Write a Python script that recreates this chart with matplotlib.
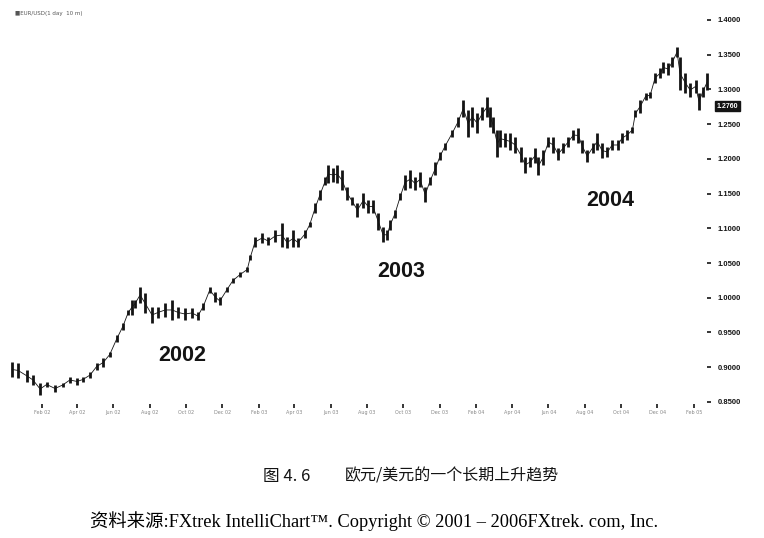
import numpy as np
import pandas as pd
import matplotlib
matplotlib.use("Agg")
import matplotlib.pyplot as plt
import matplotlib.transforms as mtransforms
from matplotlib.ticker import FormatStrFormatter

# EUR/USD daily chart, sampled roughly every 8-10 days: (date, high, low)
dates = [
    "2001-12-13", "2001-12-23", "2002-01-07", "2002-01-17", "2002-01-29", "2002-02-09",
    "2002-02-23", "2002-03-08", "2002-03-20", "2002-04-01", "2002-04-11", "2002-04-23",
    "2002-05-04", "2002-05-15", "2002-05-26", "2002-06-07", "2002-06-17", "2002-06-26",
    "2002-07-02", "2002-07-07", "2002-07-16", "2002-07-24", "2002-08-05", "2002-08-15",
    "2002-08-27", "2002-09-08", "2002-09-18", "2002-09-29", "2002-10-11", "2002-10-21",
    "2002-10-30", "2002-11-10", "2002-11-19", "2002-11-27", "2002-12-09", "2002-12-19",
    "2002-12-31", "2003-01-12", "2003-01-17", "2003-01-25", "2003-02-06", "2003-02-16",
    "2003-02-28", "2003-03-11", "2003-03-20", "2003-03-30", "2003-04-07", "2003-04-19",
    "2003-04-27", "2003-05-06", "2003-05-14", "2003-05-23", "2003-05-28", "2003-06-05",
    "2003-06-12", "2003-06-20", "2003-06-29", "2003-07-07", "2003-07-16", "2003-07-26",
    "2003-08-03", "2003-08-11", "2003-08-20", "2003-08-28", "2003-09-04", "2003-09-09",
    "2003-09-17", "2003-09-26", "2003-10-04", "2003-10-13", "2003-10-21", "2003-10-29",
    "2003-11-07", "2003-11-15", "2003-11-24", "2003-12-02", "2003-12-10", "2003-12-22",
    "2004-01-01", "2004-01-10", "2004-01-18", "2004-01-25", "2004-02-02", "2004-02-11",
    "2004-02-19", "2004-02-24", "2004-02-29", "2004-03-07", "2004-03-12", "2004-03-20",
    "2004-03-29", "2004-04-06", "2004-04-15", "2004-04-23", "2004-05-01", "2004-05-10",
    "2004-05-15", "2004-05-23", "2004-06-01", "2004-06-09", "2004-06-17", "2004-06-26",
    "2004-07-04", "2004-07-13", "2004-07-21", "2004-07-28", "2004-08-05", "2004-08-14",
    "2004-08-22", "2004-08-30", "2004-09-08", "2004-09-16", "2004-09-25", "2004-10-03",
    "2004-10-11", "2004-10-20", "2004-10-25", "2004-11-02", "2004-11-11", "2004-11-19",
    "2004-11-27", "2004-12-06", "2004-12-11", "2004-12-19", "2004-12-26", "2005-01-03",
    "2005-01-08", "2005-01-17", "2005-01-25", "2005-02-03", "2005-02-09", "2005-02-15",
    "2005-02-23",
]
highs = [
    0.9075, 0.9061, 0.8960, 0.8888, 0.8773, 0.8787,
    0.8744, 0.8773, 0.8859, 0.8845, 0.8859, 0.8931,
    0.9061, 0.9133, 0.9219, 0.9464, 0.9637, 0.9824,
    0.9968, 0.9968, 1.0155, 1.0069, 0.9867, 0.9867,
    0.9925, 0.9968, 0.9867, 0.9853, 0.9853, 0.9795,
    0.9925, 1.0155, 1.0083, 1.0011, 1.0155, 1.0285,
    1.0371, 1.0443, 1.0616, 1.0875, 1.0933, 1.0875,
    1.0976, 1.1077, 1.0875, 1.0976, 1.0861, 1.0976,
    1.1091, 1.1365, 1.1552, 1.1739, 1.1912, 1.1869,
    1.1912, 1.1840, 1.1595, 1.1451, 1.1365, 1.1509,
    1.1408, 1.1408, 1.1221, 1.1019, 1.0976, 1.1120,
    1.1264, 1.1509, 1.1768, 1.1840, 1.1739, 1.1811,
    1.1595, 1.1739, 1.1955, 1.2099, 1.2229, 1.2416,
    1.2603, 1.2848, 1.2704, 1.2747, 1.2661, 1.2747,
    1.2891, 1.2747, 1.2603, 1.2416, 1.2416, 1.2373,
    1.2373, 1.2315, 1.2171, 1.2027, 1.2027, 1.2157,
    1.2027, 1.2128, 1.2315, 1.2315, 1.2157, 1.2229,
    1.2315, 1.2416, 1.2445, 1.2272, 1.2128, 1.2229,
    1.2373, 1.2229, 1.2171, 1.2272, 1.2272, 1.2373,
    1.2416, 1.2459, 1.2704, 1.2848, 1.2949, 1.2963,
    1.3237, 1.3309, 1.3395, 1.3381, 1.3467, 1.3610,
    1.3467, 1.3237, 1.3093, 1.3136, 1.2949, 1.3035,
    1.3237,
]
lows = [
    0.8859, 0.8845, 0.8787, 0.8744, 0.8600, 0.8715,
    0.8643, 0.8715, 0.8773, 0.8744, 0.8787, 0.8845,
    0.8960, 0.9003, 0.9147, 0.9363, 0.9536, 0.9752,
    0.9752, 0.9853, 0.9925, 0.9781, 0.9637, 0.9709,
    0.9723, 0.9680, 0.9709, 0.9680, 0.9709, 0.9680,
    0.9824, 1.0069, 0.9939, 0.9896, 1.0083, 1.0213,
    1.0299, 1.0371, 1.0544, 1.0731, 1.0789, 1.0760,
    1.0803, 1.0731, 1.0717, 1.0731, 1.0731, 1.0861,
    1.1019, 1.1221, 1.1408, 1.1624, 1.1653, 1.1667,
    1.1653, 1.1552, 1.1408, 1.1336, 1.1163, 1.1293,
    1.1221, 1.1221, 1.0976, 1.0803, 1.0832, 1.0976,
    1.1149, 1.1408, 1.1552, 1.1581, 1.1552, 1.1595,
    1.1379, 1.1624, 1.1768, 1.1984, 1.2128, 1.2315,
    1.2459, 1.2603, 1.2315, 1.2459, 1.2373, 1.2560,
    1.2603, 1.2459, 1.2373, 1.2027, 1.2171, 1.2171,
    1.2128, 1.2085, 1.1955, 1.1797, 1.1883, 1.1941,
    1.1768, 1.1912, 1.2171, 1.2085, 1.1984, 1.2085,
    1.2171, 1.2272, 1.2229, 1.2085, 1.1955, 1.2085,
    1.2128, 1.2013, 1.2027, 1.2128, 1.2128, 1.2229,
    1.2272, 1.2373, 1.2603, 1.2661, 1.2848, 1.2877,
    1.3093, 1.3165, 1.3237, 1.3208, 1.3323, 1.3467,
    1.2992, 1.2949, 1.2891, 1.2949, 1.2704, 1.2891,
    1.2992,
]

price_ticks = [0.85, 0.90, 0.95, 1.00, 1.05, 1.10, 1.15, 1.20, 1.25, 1.30, 1.35, 1.40]
year_labels = ["2002", "2003", "2004"]
year_label_dates = ["2002-09-24", "2003-09-27", "2004-09-13"]
year_label_prices = [0.9162, 1.0371, 1.1394]
last_price = 1.2760

caption_num = "图 4. 6"
caption_text = "欧元/美元的一个长期上升趋势"
source_text = "资料来源:FXtrek IntelliChart™. Copyright © 2001 – 2006FXtrek. com, Inc."

plt.rcParams["font.family"] = ["DejaVu Sans", "Noto Sans CJK SC"]

fig = plt.figure(figsize=(7.64, 5.38), dpi=100)
ax = fig.add_axes([5 / 764, 1 - 404 / 538, 706 / 764, 394 / 538])

d = pd.to_datetime(dates)
hi = np.array(highs)
lo = np.array(lows)
ink = "#141414"

ax.plot(d, (hi + lo) / 2, color=ink, lw=0.6)
ax.vlines(d, lo, hi, color=ink, lw=2.0)

ax.set_xlim(pd.Timestamp("2001-12-01"), pd.Timestamp("2005-03-01"))
ax.set_ylim(0.847, 1.4144)

for s in ax.spines.values():
    s.set_visible(False)

# price axis on the right
ax.yaxis.tick_right()
ax.set_yticks(price_ticks)
ax.yaxis.set_major_formatter(FormatStrFormatter("%.4f"))
ax.tick_params(axis="y", direction="in", length=3, width=1.2, pad=5,
               labelsize=5.5, colors=ink)
plt.setp(ax.get_yticklabels(), fontweight="bold", family="Liberation Sans")

# bi-monthly date ticks
xt = pd.date_range("2002-02-01", "2005-02-01", freq="2MS")
ax.set_xticks(xt)
ax.set_xticklabels([t.strftime("%b %y") for t in xt])
ax.tick_params(axis="x", direction="out", length=3, width=1.2, pad=1.5,
               labelsize=3.5, colors=ink, labelcolor="#888888")

# year annotations
for lab, dt, pr in zip(year_labels, year_label_dates, year_label_prices):
    ax.text(pd.Timestamp(dt), pr, lab, ha="center", va="center",
            fontsize=15.5, fontweight="bold", family="Liberation Sans", color=ink)

# current price flag
trans = mtransforms.blended_transform_factory(ax.transAxes, ax.transData)
ax.text(1.0085, last_price, f"{last_price:.4f}", transform=trans, ha="left",
        va="center", fontsize=5, fontweight="bold", color="white",
        family="Liberation Sans",
        bbox=dict(boxstyle="square,pad=0.25", fc=ink, ec=ink))

fig.text(15 / 764, 1 - 13 / 538, "■EUR/USD(1 day  10 m)", fontsize=4,
         color="#555555", va="center", ha="left")

# caption and source
fig.text(263 / 764, 1 - 476 / 538, caption_num, fontsize=12,
         family=["Noto Sans CJK SC"], va="center", ha="left", color=ink)
fig.text(345 / 764, 1 - 476 / 538, caption_text, fontsize=11.5,
         family=["Noto Sans CJK SC"], va="center", ha="left", color=ink)
fig.text(374 / 764, 1 - 521 / 538, source_text, fontsize=13.2,
         family=["Liberation Serif", "Noto Sans CJK SC"], va="center",
         ha="center", color="black")

fig.savefig("out.png", dpi=100, facecolor="white")
